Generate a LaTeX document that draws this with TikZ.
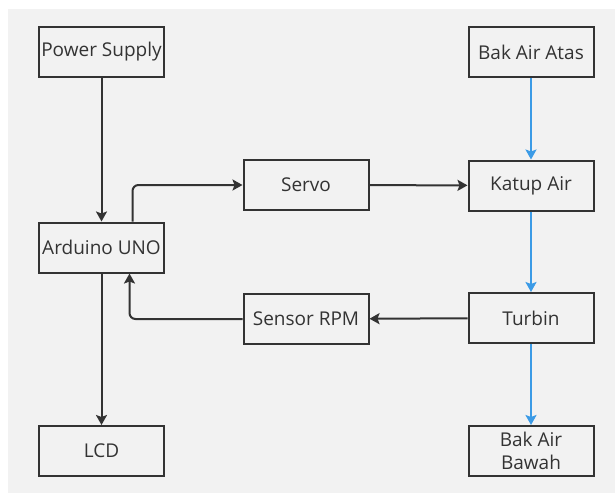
\documentclass[tikz,border=0pt]{standalone}
\usepackage{fontspec}
\setmainfont{Open Sans}
\usepackage{xcolor}
\usetikzlibrary{arrows.meta,positioning,calc}
\definecolor{canvas}{HTML}{F2F2F2}
\definecolor{inkdark}{HTML}{333333}
\definecolor{flowblue}{HTML}{3C9BE6}
\tikzset{
  block/.style={draw=inkdark,fill=canvas,line width=2pt,
                minimum width=125pt,minimum height=50pt,inner sep=2pt,
                font=\fontsize{19}{25}\selectfont,text=inkdark,align=center},
  wire/.style={-{Stealth[length=10pt,width=11pt,inset=2pt]},line width=2pt,
               inkdark,rounded corners=6pt},
  water/.style={-{Stealth[length=10pt,width=11pt,inset=2pt]},line width=2pt,
                flowblue},
}
\begin{document}
\begin{tikzpicture}[x=1pt,y=-1pt]
  % page frame
  \useasboundingbox (0,0) rectangle (615,493);
  \fill[canvas] (8,9) rectangle (615,493);

  % control side
  \node[block](psu)at(101.5,52){Power Supply};
  \node[block](ard)at(101.5,247.5){Arduino UNO};
  \node[block](lcd)at(101.5,451){LCD};
  \node[block](srv)at(306,185){Servo};
  \node[block](rpm)at(306,319){Sensor RPM};

  % water side
  \node[block](atas)at(531,52){Bak Air Atas};
  \node[block](katup)at(531,185.5){Katup Air};
  \node[block](turb)at(531,318){Turbin};
  \node[block](bawah)at(531,451){Bak Air\\[-2pt]Bawah};

  % signal lines
  \draw[wire](psu)--(ard);
  \draw[wire](ard)--(lcd);
  \draw[wire]([xshift=31pt]ard.north)|-(srv.west);
  \draw[wire](rpm.west)-|([xshift=28pt]ard.south);
  \draw[wire](srv)--(katup);
  \draw[wire](turb)--(rpm);

  % water flow
  \draw[water](atas)--(katup);
  \draw[water](katup)--(turb);
  \draw[water](turb)--(bawah);
\end{tikzpicture}
\end{document}
